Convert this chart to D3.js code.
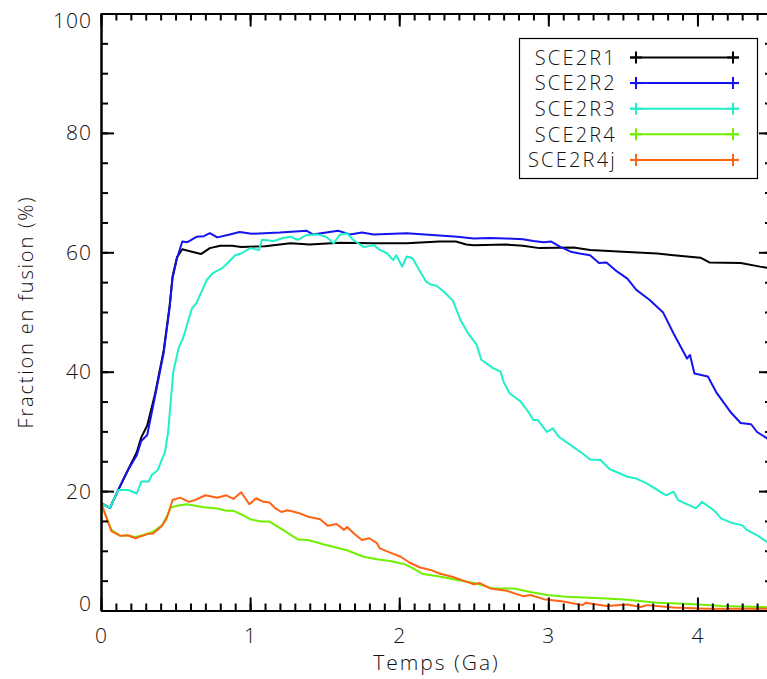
<!DOCTYPE html>
<html><head><meta charset="utf-8">
<script src="https://cdn.jsdelivr.net/npm/d3@7"></script>
<style>
html,body{margin:0;padding:0;background:#fff;overflow:hidden}
text{font-family:"Open Sans","DejaVu Sans",sans-serif;font-weight:300;fill:#111}
</style></head><body>
<svg id="c" width="767" height="679"></svg>
<script>
// ---------- data (time in Ga, fraction in %) ----------
const seriesNames = ["SCE2R1","SCE2R2","SCE2R3","SCE2R4","SCE2R4j"];
const seriesColors = ["#000000","#1414f0","#1ff0c8","#70f000","#ff6414"];
const xTicks = [0,1,2,3,4];
const yTicks = [0,20,40,60,80,100];

const sce2r1 = [[0,18],[0.06,17.2],[0.116,20.2],[0.18,23.5],[0.24,26.5],[0.27,29],[0.31,31],[0.36,36],[0.42,43.5],[0.46,51],[0.48,56],[0.51,59.2],[0.545,60.5],[0.61,60.1],[0.67,59.7],[0.73,60.7],[0.8,61.1],[0.88,61.1],[0.94,60.9],[1.1,61.0],[1.27,61.5],[1.4,61.3],[1.6,61.6],[1.83,61.5],[2.05,61.5],[2.27,61.8],[2.38,61.8],[2.45,61.3],[2.5,61.2],[2.72,61.3],[2.83,61.1],[2.94,60.7],[3.17,60.8],[3.28,60.4],[3.5,60.1],[3.73,59.8],[3.84,59.5],[4.02,59.1],[4.08,58.3],[4.29,58.2],[4.42,57.6],[4.5,57.3]];

const sce2r2 = [[0,18],[0.06,17.2],[0.116,20.2],[0.18,23.5],[0.24,26],[0.27,28.4],[0.31,29.4],[0.36,35.6],[0.42,43.1],[0.46,50.7],[0.48,55.7],[0.51,59],[0.545,61.8],[0.58,61.7],[0.64,62.6],[0.69,62.7],[0.73,63.2],[0.78,62.5],[0.85,62.9],[0.93,63.4],[1.01,63.1],[1.2,63.3],[1.38,63.6],[1.42,63.0],[1.59,63.6],[1.67,63.0],[1.75,63.3],[1.83,63.0],[2.05,63.2],[2.27,62.8],[2.39,62.6],[2.5,62.3],[2.61,62.4],[2.72,62.3],[2.83,62.2],[2.9,61.9],[2.97,61.7],[3.02,61.8],[3.08,60.9],[3.15,60.1],[3.21,59.8],[3.28,59.5],[3.34,58.2],[3.39,58.3],[3.46,56.8],[3.53,55.6],[3.59,53.7],[3.68,52.0],[3.77,49.9],[3.84,46.4],[3.93,42.2],[3.95,42.8],[3.98,39.7],[4.07,39.2],[4.13,36.4],[4.22,33.3],[4.29,31.4],[4.36,31.2],[4.4,29.9],[4.47,28.8],[4.5,28.5]];

const sce2r3 = [[0,18],[0.06,17.2],[0.116,20.2],[0.18,20.2],[0.24,19.6],[0.27,21.6],[0.32,21.6],[0.34,22.7],[0.38,23.5],[0.43,26.6],[0.45,29.9],[0.485,40],[0.52,43.9],[0.55,45.6],[0.61,50.6],[0.64,51.5],[0.71,55.4],[0.75,56.5],[0.81,57.3],[0.85,58.2],[0.9,59.5],[0.94,59.8],[1.0,60.7],[1.06,60.4],[1.08,62.1],[1.16,61.9],[1.22,62.4],[1.27,62.6],[1.32,62.1],[1.38,62.9],[1.45,63.0],[1.51,62.6],[1.56,61.5],[1.6,62.9],[1.65,63.2],[1.69,62.1],[1.76,60.9],[1.83,61.2],[1.87,60.4],[1.92,59.8],[1.96,58.7],[1.98,59.5],[2.02,57.6],[2.05,59.3],[2.09,59.0],[2.14,56.8],[2.18,55.1],[2.21,54.6],[2.25,54.4],[2.3,53.4],[2.36,51.9],[2.41,48.7],[2.46,46.5],[2.52,44.5],[2.55,42.0],[2.63,40.6],[2.68,40.0],[2.7,38.3],[2.74,36.4],[2.81,35.1],[2.86,33.5],[2.9,31.9],[2.93,31.9],[2.99,29.9],[3.03,30.5],[3.07,29.1],[3.15,27.7],[3.23,26.3],[3.28,25.3],[3.35,25.2],[3.41,23.7],[3.53,22.4],[3.59,22.1],[3.66,21.3],[3.73,20.2],[3.79,19.3],[3.84,19.9],[3.87,18.5],[3.99,17.1],[4.03,18.2],[4.11,16.8],[4.16,15.4],[4.24,14.6],[4.3,14.3],[4.33,13.5],[4.4,12.6],[4.47,11.4],[4.5,11.0]];

const sce2r4 = [[0,18],[0.07,13.5],[0.13,12.5],[0.17,12.6],[0.23,12.3],[0.28,12.6],[0.35,13.2],[0.41,14.3],[0.44,15.7],[0.47,17.3],[0.52,17.6],[0.575,17.8],[0.69,17.3],[0.78,17.1],[0.84,16.7],[0.89,16.7],[0.95,16.0],[1.0,15.3],[1.07,14.9],[1.13,14.9],[1.22,13.5],[1.32,11.9],[1.39,11.8],[1.49,11.1],[1.65,10.1],[1.76,9.0],[1.85,8.6],[1.94,8.3],[2.03,7.8],[2.09,7.1],[2.16,6.1],[2.27,5.7],[2.39,5.1],[2.5,4.6],[2.63,3.7],[2.77,3.7],[2.88,3.1],[2.99,2.6],[3.12,2.3],[3.39,2.0],[3.53,1.8],[3.73,1.3],[3.95,1.1],[4.17,0.75],[4.42,0.6],[4.5,0.5]];

const sce2r4j = [[0,18],[0.07,13.3],[0.13,12.5],[0.18,12.6],[0.23,12.1],[0.31,12.8],[0.35,12.9],[0.41,14.2],[0.44,15.4],[0.48,18.5],[0.53,18.9],[0.59,18.2],[0.64,18.6],[0.7,19.3],[0.78,18.9],[0.84,19.3],[0.89,18.7],[0.94,19.8],[0.995,17.8],[1.04,18.8],[1.09,18.2],[1.13,18.1],[1.17,17.1],[1.21,16.5],[1.25,16.8],[1.3,16.5],[1.33,16.3],[1.39,15.7],[1.47,15.3],[1.52,14.2],[1.58,14.5],[1.63,13.5],[1.65,14.0],[1.7,12.8],[1.75,11.8],[1.8,12.1],[1.85,11.3],[1.87,10.4],[1.94,9.7],[2.01,9.0],[2.07,8.0],[2.14,7.2],[2.21,6.8],[2.27,6.2],[2.36,5.6],[2.43,5.0],[2.5,4.4],[2.54,4.6],[2.61,3.7],[2.72,3.3],[2.83,2.4],[2.88,2.6],[2.97,1.9],[3.1,1.5],[3.23,0.9],[3.25,1.3],[3.39,0.75],[3.53,1.0],[3.62,0.6],[3.66,0.9],[3.84,0.5],[4.06,0.3],[4.29,0.3],[4.5,0.3]];

const allSeries = [sce2r1, sce2r2, sce2r3, sce2r4, sce2r4j];

// ---------- layout ----------
const L = 101, R = 772, T = 13.5, B = 610.5;
const svg = d3.select("#c");
const x = d3.scaleLinear().domain([0,4.5]).range([L,R]);
const y = d3.scaleLinear().domain([0,100]).range([B,T]);

svg.append("defs").append("clipPath").attr("id","clip")
  .append("rect").attr("x",L).attr("y",T).attr("width",R-L).attr("height",B-T);

// lines
const line = d3.line().x(d=>x(d[0])).y(d=>y(d[1]));
const g = svg.append("g").attr("clip-path","url(#clip)");
allSeries.forEach((s,i)=>{
  g.append("path").attr("d",line(s)).attr("fill","none")
    .attr("stroke",seriesColors[i]).attr("stroke-width",2).attr("stroke-linejoin","round");
});

// axes (ticks inward, IDL style)
const axStroke = (sel)=>{sel.select(".domain").attr("stroke","#000").attr("stroke-width",2);
  sel.selectAll("line").attr("stroke","#000").attr("stroke-width",2);};
const minorX = d3.range(0,4.51,0.1), minorY = d3.range(0,100.1,5);

function xAxis(pos, orient){
  const gm = svg.append("g").attr("transform",`translate(0,${pos})`)
    .call((orient==="bottom"?d3.axisBottom:d3.axisTop)(x).tickValues(minorX).tickSize(-7).tickFormat("").tickSizeOuter(0));
  axStroke(gm);
  const gM = svg.append("g").attr("transform",`translate(0,${pos})`)
    .call((orient==="bottom"?d3.axisBottom:d3.axisTop)(x).tickValues(xTicks).tickSize(-13).tickFormat("").tickSizeOuter(0));
  axStroke(gM);
}
function yAxis(pos, orient){
  const gm = svg.append("g").attr("transform",`translate(${pos},0)`)
    .call((orient==="left"?d3.axisLeft:d3.axisRight)(y).tickValues(minorY).tickSize(-7).tickFormat("").tickSizeOuter(0));
  axStroke(gm);
  const gM = svg.append("g").attr("transform",`translate(${pos},0)`)
    .call((orient==="left"?d3.axisLeft:d3.axisRight)(y).tickValues(yTicks).tickSize(-13).tickFormat("").tickSizeOuter(0));
  axStroke(gM);
}
xAxis(B,"bottom"); xAxis(T,"top"); yAxis(L,"left"); yAxis(R,"right");

// tick labels
svg.append("g").selectAll("text").data(xTicks).join("text")
  .attr("x",d=>x(d)).attr("y",643).attr("text-anchor","middle")
  .attr("font-size",21).text(d=>d);
svg.append("g").selectAll("text").data(yTicks).join("text")
  .attr("x",92).attr("y",d=>Math.min(B-7,Math.max(T+7,y(d))))
  .attr("dy","0.36em").attr("text-anchor","end").attr("letter-spacing",1)
  .attr("font-size",21).text(d=>d);

// axis titles
svg.append("text").attr("x",(L+R)/2).attr("y",670).attr("text-anchor","middle")
  .attr("font-size",21).attr("letter-spacing",2).text("Temps (Ga)");
svg.append("text").attr("transform",`translate(33,${(T+B)/2}) rotate(-90)`)
  .attr("text-anchor","middle").attr("font-size",20).attr("letter-spacing",1.8)
  .text("Fraction en fusion (%)");

// legend
const lg = svg.append("g");
lg.append("rect").attr("x",519.5).attr("y",38.5).attr("width",238).attr("height",140)
  .attr("fill","#fff").attr("stroke","#000").attr("stroke-width",1.2);
seriesNames.forEach((n,i)=>{
  const yy = 57.5 + i*25.6;
  lg.append("text").attr("x",617).attr("y",yy).attr("dy","0.36em").attr("text-anchor","end")
    .attr("font-size",20).attr("letter-spacing",2.2).text(n);
  lg.append("line").attr("x1",630).attr("x2",739).attr("y1",yy).attr("y2",yy)
    .attr("stroke",seriesColors[i]).attr("stroke-width",2);
  [636,733].forEach(px=>{
    lg.append("line").attr("x1",px-6).attr("x2",px+6).attr("y1",yy).attr("y2",yy)
      .attr("stroke",seriesColors[i]).attr("stroke-width",2);
    lg.append("line").attr("x1",px).attr("x2",px).attr("y1",yy-6).attr("y2",yy+6)
      .attr("stroke",seriesColors[i]).attr("stroke-width",2);
  });
});
</script></body></html>
